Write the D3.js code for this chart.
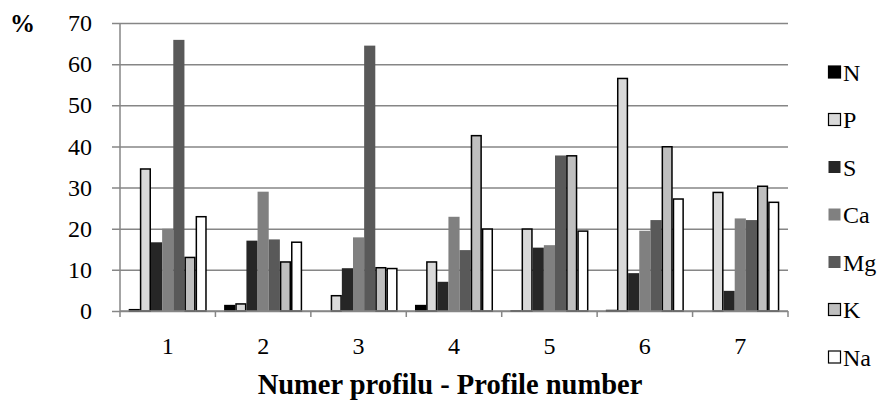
<!DOCTYPE html>
<html><head><meta charset="utf-8">
<script src="https://cdn.jsdelivr.net/npm/d3@7"></script>
<style>body{margin:0;background:#fff}svg{display:block}text{font-family:"Liberation Serif","Times New Roman",serif}</style>
</head><body><svg id="c" width="891" height="402"></svg>
<script>
const categories = ["1","2","3","4","5","6","7"];
const seriesNames = ["N","P","S","Ca","Mg","K","Na"];
const N  = [0.5, 1.5, 0.1, 1.5, 0.2, 0.3, 0.1];
const P  = [34.7, 1.9, 3.9, 12.1, 20.1, 56.7, 29.0];
const S  = [16.7, 17.1, 10.4, 7.1, 15.4, 9.2, 4.9];
const Ca = [20.0, 29.0, 17.9, 22.9, 16.0, 19.5, 22.5];
const Mg = [65.9, 17.4, 64.5, 14.8, 37.8, 22.1, 22.1];
const K  = [13.2, 12.1, 10.7, 42.8, 37.9, 40.1, 30.5];
const Na = [23.1, 16.9, 10.5, 20.1, 19.6, 27.4, 26.6];
const yTicks = [0,10,20,30,40,50,60,70];
const xTitle = "Numer profilu - Profile number";
const yTitle = "%";

const seriesValues = {N, P, S, Ca, Mg, K, Na};
const fills = {N:"#000000", P:"#d9d9d9", S:"#262626", Ca:"#808080", Mg:"#595959", K:"#bfbfbf", Na:"#ffffff"};
const outlined = {N:true, P:true, S:false, Ca:false, Mg:false, K:true, Na:true};

const svg = d3.select("#c");
const pL = 120, pR = 788, pT = 23, pB = 311;
const x0 = d3.scaleBand().domain(categories).range([pL, pR]).padding(0);
const x1 = d3.scaleBand().domain(seriesNames).range([0, x0.bandwidth()]).paddingInner(0).paddingOuter(0.78);
const y = d3.scaleLinear().domain([0,70]).range([pB, pT]);
const grid = "#868686";

const yAxis = d3.axisLeft(y).tickValues(yTicks).tickSize(-(pR-pL)).tickPadding(28);
const gy = svg.append("g").attr("transform",`translate(${pL},0)`).call(yAxis);
gy.select(".domain").remove();
gy.selectAll(".tick line").attr("stroke",grid).attr("stroke-width",1.5).attr("x1",-8);
gy.selectAll(".tick text").attr("font-size",24).attr("fill","#000").attr("x",-28);

svg.append("line").attr("x1",pL).attr("x2",pL).attr("y1",pT).attr("y2",pB+6).attr("stroke",grid).attr("stroke-width",1.5);

const groups = svg.append("g").selectAll("g").data(categories).join("g")
  .attr("transform", d => `translate(${x0(d)},0)`);
groups.selectAll("rect").data((c,i) => seriesNames.map(s => ({s, v: seriesValues[s][i]})))
  .join("rect")
  .attr("x", d => x1(d.s) + (outlined[d.s] ? 0.75 : 0))
  .attr("width", d => x1.bandwidth() - (outlined[d.s] ? 1.5 : 0))
  .attr("y", d => y(d.v) + (outlined[d.s] ? 0.75 : 0))
  .attr("height", d => Math.max(0, y(0) - y(d.v) - (outlined[d.s] ? 0.75 : 0)))
  .attr("fill", d => fills[d.s])
  .attr("stroke", d => outlined[d.s] ? "#000" : "none")
  .attr("stroke-width", 1.5);

const xAxis = d3.axisBottom(x0).tickSize(0).tickPadding(26);
const gx = svg.append("g").attr("transform",`translate(0,${pB})`).call(xAxis);
gx.select(".domain").remove();
gx.selectAll(".tick text").attr("font-size",24).attr("fill","#000");
svg.append("line").attr("x1",pL).attr("x2",pR).attr("y1",pB).attr("y2",pB).attr("stroke",grid).attr("stroke-width",1.5);
svg.append("g").selectAll("line").data(categories.slice(1).concat(["end"])).join("line")
  .attr("x1", d => d==="end" ? pR : x0(d)).attr("x2", d => d==="end" ? pR : x0(d))
  .attr("y1", pB).attr("y2", pB+6).attr("stroke",grid).attr("stroke-width",1.5);

svg.append("text").attr("x",450).attr("y",394).attr("text-anchor","middle")
  .attr("font-size",28.5).attr("font-weight","bold").text(xTitle);
svg.append("text").attr("x",10).attr("y",32).attr("font-size",25).attr("font-weight","bold").text(yTitle);

const leg = svg.append("g").selectAll("g").data(seriesNames).join("g")
  .attr("transform",(d,i)=>`translate(828,${72 + i*47.5})`);
leg.append("rect").attr("x",0.5).attr("y",-6).attr("width",12).attr("height",12)
  .attr("fill",d=>fills[d]).attr("stroke",d=>outlined[d]?"#000":"none").attr("stroke-width",1.2);
leg.append("text").attr("x",15).attr("y",8.5).attr("font-size",24).text(d=>d);
</script></body></html>
